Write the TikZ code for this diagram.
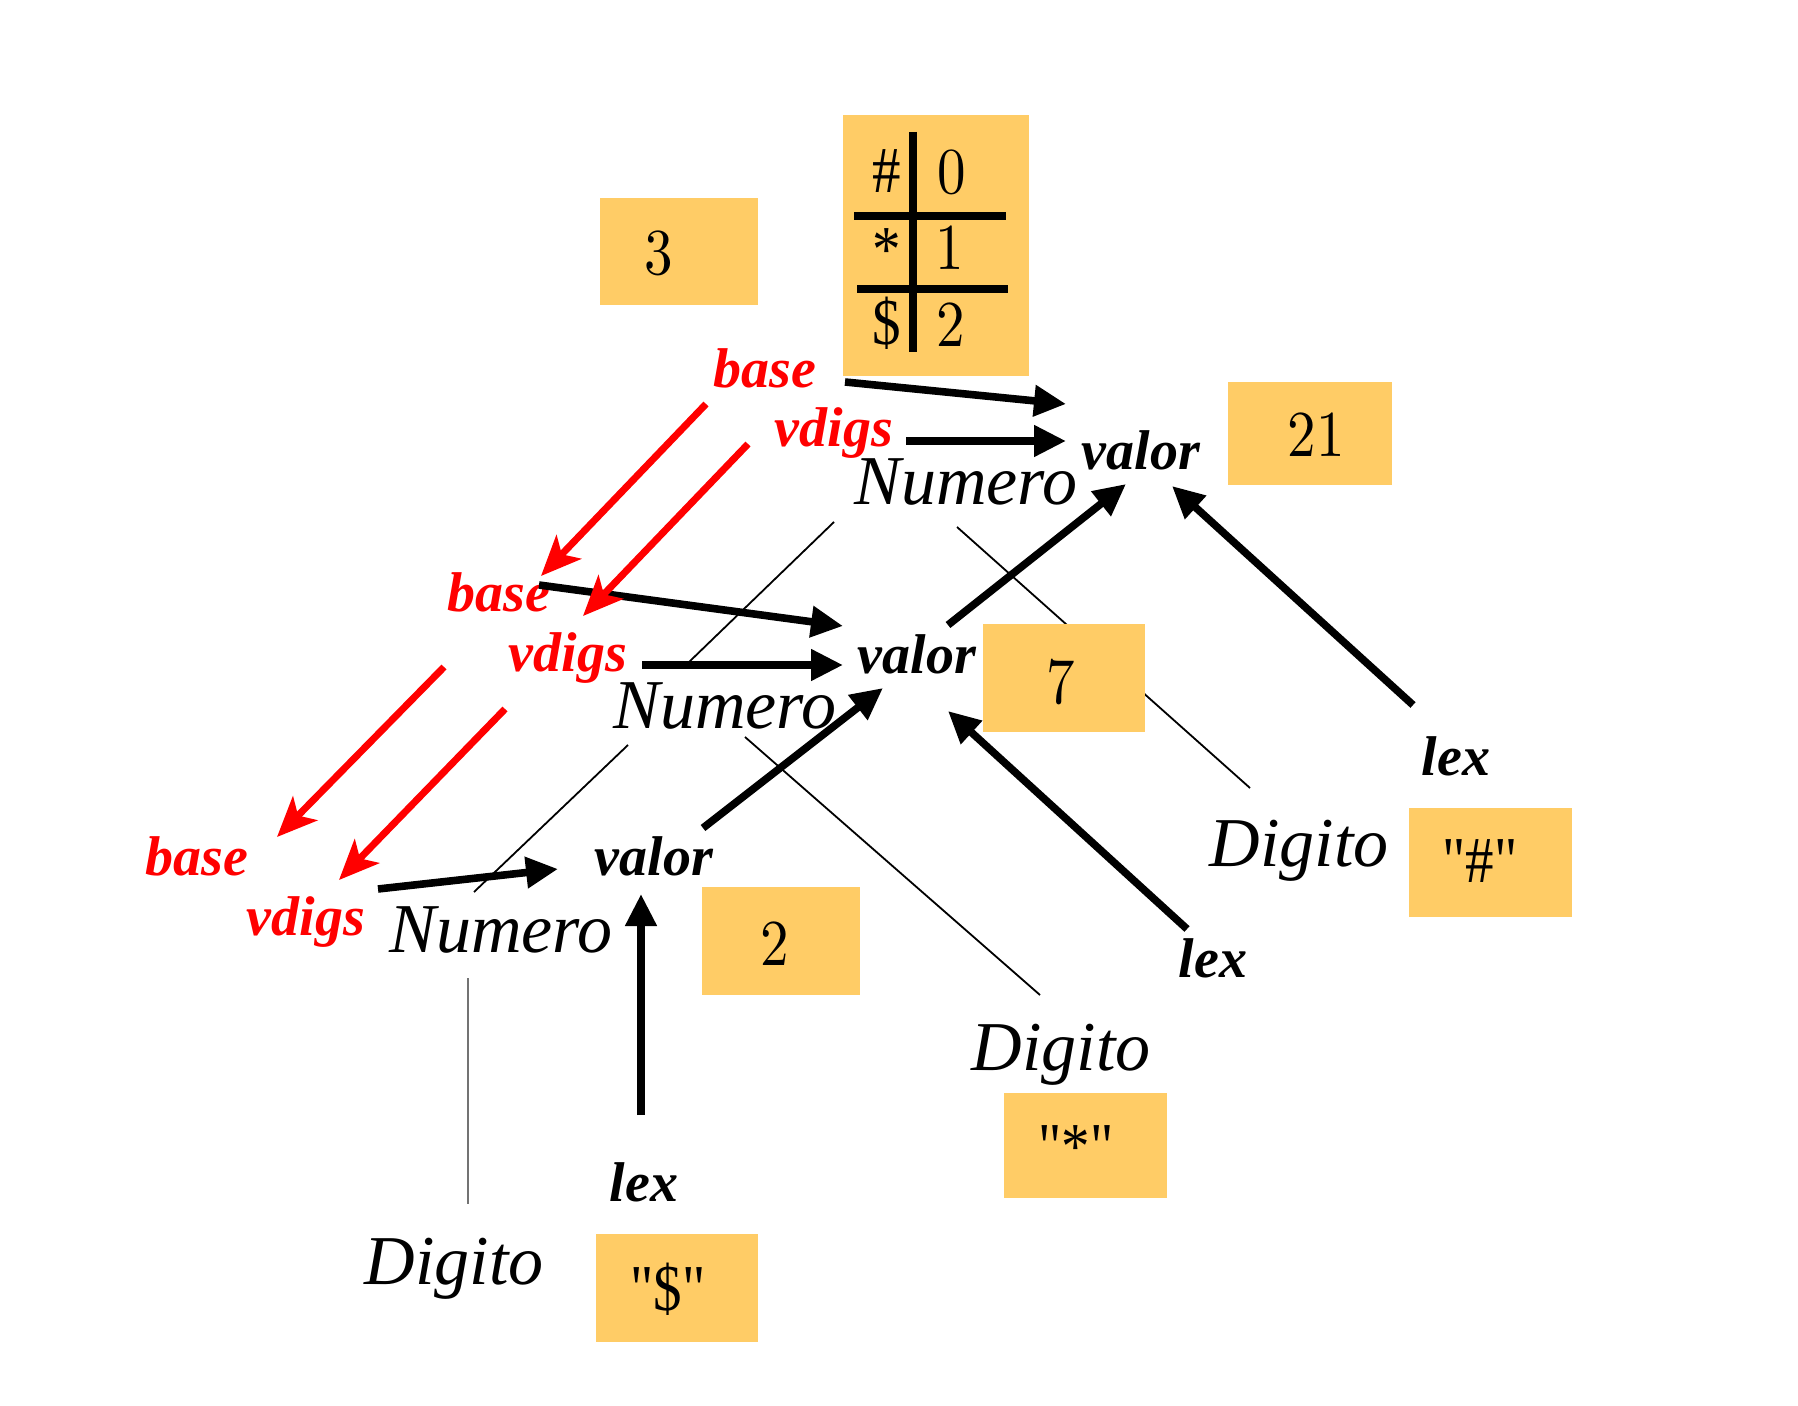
\documentclass[tikz,border=0pt]{standalone}
\usepackage{fontspec}
\newfontfamily\tmsfont{Liberation Serif}
\newfontfamily\lmten[Extension=.otf]{lmroman10-regular}
\usetikzlibrary{arrows.meta}
\definecolor{boxfill}{RGB}{255,204,102}
\newcommand\vstr[1]{\scalebox{1}[1.15]{#1}}
\tikzset{
  nt/.style={font=\tmsfont\itshape\fontsize{35}{40}\selectfont, inner sep=0pt, anchor=base},
  attr/.style={font=\tmsfont\bfseries\itshape\fontsize{28}{32}\selectfont, inner sep=0pt, anchor=base},
  redattr/.style={attr, text=red},
  num/.style={font=\lmten\fontsize{28.5}{32}\selectfont, inner sep=0pt, anchor=base},
  sym/.style={font=\tmsfont\fontsize{28.5}{32}\selectfont, inner sep=0pt, anchor=base},
  flow/.style={line width=3.8pt, -{Triangle[length=16pt,width=15pt]}},
  inh/.style={red, line width=3.5pt, -{Stealth[length=20pt,width=17pt,inset=5pt]}},
  tree/.style={line width=0.9pt},
  rulestroke/.style={line width=3.6pt},
  valbox/.style={fill=boxfill},
}
\begin{document}
\begin{tikzpicture}[x=0.5pt,y=-0.5pt]
\useasboundingbox (0,0) rectangle (1798,1406);

% endpoints of tree edges
\coordinate (t1a) at (834,522);  \coordinate (t1b) at (688,663);
\coordinate (t2a) at (957,527);  \coordinate (t2b) at (1250,788);
\coordinate (t3a) at (628,745);  \coordinate (t3b) at (474,892);
\coordinate (t4a) at (745,737);  \coordinate (t4b) at (1040,995);
\coordinate (t5a) at (468,978);  \coordinate (t5b) at (468,1204);

% tree edges (under the boxes)
\draw[tree] (t1a) -- (t1b);
\draw[tree] (t2a) -- (t2b);
\draw[tree] (t3a) -- (t3b);
\draw[tree] (t4a) -- (t4b);
\draw[tree, black!55] (t5a) -- (t5b);

% value boxes
\fill[valbox] (600,198) rectangle (758,305);
\fill[valbox] (843,115) rectangle (1029,376);
\fill[valbox] (1228,382) rectangle (1392,485);
\fill[valbox] (983,624) rectangle (1145,732);
\fill[valbox] (702,887) rectangle (860,995);
\fill[valbox] (1409,808) rectangle (1572,917);
\fill[valbox] (1004,1093) rectangle (1167,1198);
\fill[valbox] (596,1234) rectangle (758,1342);

% box contents
\node[num] (val3)  at (659,275)  {\vstr{3}};
\node[num] (val21) at (1316,457) {\vstr{21}};
\node[num] (val7)  at (1061,703) {\vstr{7}};
\node[num] (val2)  at (775,965)  {\vstr{2}};
\node[sym] (qh) at (1480,882)  {\vstr{"\#"}};
\node[sym] (qs) at (1076,1168) {\vstr{"*"}};
\node[sym] (qd) at (668,1310)  {\vstr{"\$"}};

% table
\draw[rulestroke] (913,132) -- (913,352);
\draw[rulestroke] (854,216) -- (1006,216);
\draw[rulestroke] (857,289) -- (1008,289);
\node[sym] (th) at (887,193) {\vstr{\#}};
\node[num] (t0) at (952,194) {\vstr{0}};
\node[sym] (ts) at (887,272) {\vstr{*}};
\node[num] (t1) at (950,270) {\vstr{1}};
\node[sym] (td) at (887,345) {\vstr{\$}};
\node[num] (t2) at (951,347) {\vstr{2}};

% nonterminals
\node[nt] (num1) at (966,505) {Numero};
\node[nt] (num2) at (725,728) {Numero};
\node[nt] (num3) at (501,952) {Numero};
\node[nt] (dig1) at (1299,866) {Digito};
\node[nt] (dig2) at (1061,1070) {Digito};
\node[nt] (dig3) at (454,1284) {Digito};

% attributes
\node[attr] (valor1) at (1141,470) {valor};
\node[attr] (valor2) at (917,673)  {valor};
\node[attr] (valor3) at (654,875)  {valor};
\node[attr] (lex1) at (1456,775)  {lex};
\node[attr] (lex2) at (1213,977)  {lex};
\node[attr] (lex3) at (644,1201)  {lex};
\node[redattr] (base1) at (765,388) {base};
\node[redattr] (vd1)   at (834,447) {vdigs};
\node[redattr] (base2) at (499,611) {base};
\node[redattr] (vd2)   at (568,671) {vdigs};
\node[redattr] (base3) at (197,875) {base};
\node[redattr] (vd3)   at (306,935) {vdigs};

% synthesized / flow arrow endpoints
\coordinate (fb1s) at (845,382);  \coordinate (fb1e) at (1066,404);
\coordinate (fv1s) at (906,441);  \coordinate (fv1e) at (1066,441);
\coordinate (fb2s) at (539,585);  \coordinate (fb2e) at (843,626);
\coordinate (fv2s) at (642,665);  \coordinate (fv2e) at (843,665);
\coordinate (fv3s) at (378,889);  \coordinate (fv3e) at (558,869);
\coordinate (fl3s) at (641,1115); \coordinate (fl3e) at (641,894);
\coordinate (fu3s) at (703,828);  \coordinate (fu3e) at (883,688);
\coordinate (fu2s) at (948,625);  \coordinate (fu2e) at (1126,484);
\coordinate (fl2s) at (1187,929); \coordinate (fl2e) at (948,711);
\coordinate (fl1s) at (1413,705); \coordinate (fl1e) at (1172,486);

\draw[flow] (fb1s) -- (fb1e);
\draw[flow] (fv1s) -- (fv1e);
\draw[flow] (fb2s) -- (fb2e);
\draw[flow] (fv2s) -- (fv2e);
\draw[flow] (fv3s) -- (fv3e);
\draw[flow] (fl3s) -- (fl3e);
\draw[flow] (fu3s) -- (fu3e);
\draw[flow] (fu2s) -- (fu2e);
\draw[flow] (fl2s) -- (fl2e);
\draw[flow] (fl1s) -- (fl1e);

% inherited arrows
\coordinate (ib1s) at (706,404);  \coordinate (ib1e) at (541,576);
\coordinate (iv1s) at (748,444);  \coordinate (iv1e) at (583,616);
\coordinate (ib2s) at (444,667);  \coordinate (ib2e) at (277,837);
\coordinate (iv2s) at (505,709);  \coordinate (iv2e) at (339,880);
\draw[inh] (ib1s) -- (ib1e);
\draw[inh] (iv1s) -- (iv1e);
\draw[inh] (ib2s) -- (ib2e);
\draw[inh] (iv2s) -- (iv2e);
\end{tikzpicture}
\end{document}
